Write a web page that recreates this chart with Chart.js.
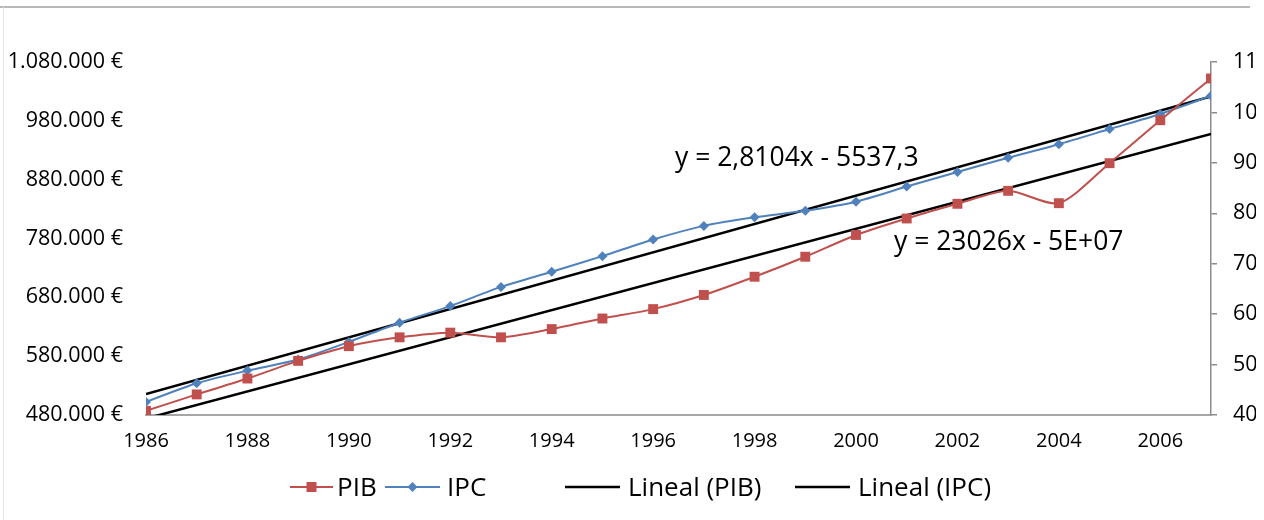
<!DOCTYPE html>
<html>
<head>
<meta charset="UTF-8" />
<title>PIB e IPC</title>
<script src="https://cdn.jsdelivr.net/npm/chart.js@4"></script>
<style>
  html, body { margin: 0; padding: 0; background: #fff; }
  #wrap { position: relative; width: 1264px; height: 520px; overflow: hidden; }
  #frameTop { position: absolute; left: 0; top: 6px; width: 1250px; height: 2px; background: #b8b8b8; }
  #frameLeft { position: absolute; left: 3px; top: 7px; width: 1px; height: 513px; background: #e4e4e4; }
  canvas { position: absolute; left: 0; top: 0; }
</style>
</head>
<body>
<div id="wrap">
  <div id="frameTop"></div>
  <div id="frameLeft"></div>
  <canvas id="chart" width="1256" height="520"></canvas>
</div>

<script>
// values
const years = [1986, 1987, 1988, 1989, 1990, 1991, 1992, 1993, 1994, 1995, 1996,
               1997, 1998, 1999, 2000, 2001, 2002, 2003, 2004, 2005, 2006, 2007];
const pib = [487000, 515000, 542000, 572000, 597000, 612000, 620000, 612000, 626000, 644000, 660000,
             684000, 715000, 749000, 786000, 814000, 839000, 861000, 840000, 908000, 981000, 1052000];
const ipc = [42.6, 46.3, 48.8, 51.0, 54.5, 58.3, 61.6, 65.4, 68.4, 71.5, 74.8,
             77.5, 79.2, 80.5, 82.3, 85.3, 88.2, 91.0, 93.7, 96.7, 99.7, 103.3];

// trend lines: ends at first and last year
const trendYears = [1986, 2007];
const pibTrend = [474000, 957500];
const ipcTrend = [44.15, 103.17];

const xTicks = [1986, 1988, 1990, 1992, 1994, 1996, 1998, 2000, 2002, 2004, 2006];
const pibTicks = [480000, 580000, 680000, 780000, 880000, 980000, 1080000];
const ipcTicks = [40, 50, 60, 70, 80, 90, 100, 110];

const legendLabels = ['PIB', 'IPC', 'Lineal (PIB)', 'Lineal (IPC)'];
const eqLabels = ['y = 2,8104x - 5537,3', 'y = 23026x - 5E+07'];

const RED = '#C0504D';
const BLUE = '#4F81BD';
const FONT = '"Open Sans", "DejaVu Sans", sans-serif';

function euro(v) {
    return String(v).replace(/\B(?=(\d{3})+(?!\d))/g, '.') + ' €';
}

function pts(xs, ys) {
    return xs.map((x, i) => ({ x: x, y: ys[i] }));
}

// legend + trend equations drawn on the canvas
const extras = {
    id: 'extras',
    afterDraw(chart) {
        const ctx = chart.ctx;
        ctx.save();
        ctx.fillStyle = '#000';
        ctx.textAlign = 'left';
        ctx.textBaseline = 'alphabetic';
        ctx.font = '26.5px ' + FONT;
        ctx.fillText(eqLabels[0], 675, 166);
        ctx.fillText(eqLabels[1], 894, 250);

        const ly = 487;
        const items = [
            { x0: 290, x1: 333, col: RED, mark: 'sq', tx: 337 },
            { x0: 385, x1: 440, col: BLUE, mark: 'di', tx: 447 },
            { x0: 565, x1: 620, col: '#000', mark: null, tx: 628 },
            { x0: 795, x1: 850, col: '#000', mark: null, tx: 858 }
        ];
        items.forEach((it, i) => {
            ctx.strokeStyle = it.col;
            ctx.lineWidth = it.mark ? 2 : 2.5;
            ctx.beginPath();
            ctx.moveTo(it.x0, ly);
            ctx.lineTo(it.x1, ly);
            ctx.stroke();
            const cx = (it.x0 + it.x1) / 2;
            ctx.fillStyle = it.col;
            if (it.mark === 'sq') {
                ctx.fillRect(cx - 5, ly - 5, 10, 10);
            } else if (it.mark === 'di') {
                ctx.beginPath();
                ctx.moveTo(cx, ly - 5);
                ctx.lineTo(cx + 5, ly);
                ctx.lineTo(cx, ly + 5);
                ctx.lineTo(cx - 5, ly);
                ctx.closePath();
                ctx.fill();
            }
            ctx.fillStyle = '#000';
            ctx.font = '26px ' + FONT;
            ctx.fillText(legendLabels[i], it.tx, 496);
        });
        ctx.restore();
    }
};

new Chart(document.getElementById('chart'), {
    type: 'line',
    data: {
        datasets: [
            {
                label: legendLabels[0],
                data: pts(years, pib),
                yAxisID: 'yL',
                borderColor: RED,
                backgroundColor: RED,
                borderWidth: 2,
                pointStyle: 'rect',
                pointRadius: 7,
                pointBorderWidth: 0,
                tension: 0.25
            },
            {
                label: legendLabels[1],
                data: pts(years, ipc),
                yAxisID: 'yR',
                borderColor: BLUE,
                backgroundColor: BLUE,
                borderWidth: 2,
                pointStyle: 'rectRot',
                pointRadius: 5,
                pointBorderWidth: 0,
                tension: 0.25
            },
            {
                label: legendLabels[2],
                data: pts(trendYears, pibTrend),
                yAxisID: 'yL',
                borderColor: '#000',
                borderWidth: 2.5,
                pointRadius: 0
            },
            {
                label: legendLabels[3],
                data: pts(trendYears, ipcTrend),
                yAxisID: 'yR',
                borderColor: '#000',
                borderWidth: 2.5,
                pointRadius: 0
            }
        ]
    },
    options: {
        responsive: false,
        animation: false,
        devicePixelRatio: 1,
        layout: { padding: { top: 62, left: 0, right: 0, bottom: 0 } },
        plugins: {
            legend: { display: false },
            tooltip: { enabled: false }
        },
        scales: {
            x: {
                type: 'linear',
                position: 'bottom',
                min: 1986,
                max: 2007,
                afterBuildTicks: s => { s.ticks = xTicks.map(v => ({ value: v })); },
                afterFit: s => { s.height = 105; },
                ticks: {
                    callback: v => String(v),
                    color: '#000',
                    font: { family: FONT, size: 20 },
                    padding: 14,
                    maxRotation: 0,
                    autoSkip: false
                },
                grid: { display: true, drawOnChartArea: false, drawTicks: false },
                border: { display: true, color: '#a6a6a6', width: 2 }
            },
            yL: {
                position: 'left',
                min: 480000,
                max: 1080000,
                afterBuildTicks: s => { s.ticks = pibTicks.map(v => ({ value: v })); },
                afterFit: s => { s.width = 146; },
                ticks: {
                    callback: v => euro(v),
                    color: '#000',
                    font: { family: FONT, size: 21.5 },
                    padding: 15
                },
                grid: { display: false },
                border: { display: false }
            },
            yR: {
                position: 'right',
                min: 40,
                max: 110,
                afterBuildTicks: s => { s.ticks = ipcTicks.map(v => ({ value: v })); },
                afterFit: s => { s.width = 45; },
                ticks: {
                    color: '#000',
                    font: { family: FONT, size: 21.5 },
                    padding: 16
                },
                grid: {
                    display: true,
                    drawOnChartArea: false,
                    drawTicks: true,
                    tickLength: 6,
                    color: '#8c8c8c',
                    lineWidth: 1.5
                },
                border: { display: true, color: '#8c8c8c', width: 1.5 }
            }
        }
    },
    plugins: [extras]
});
</script>
</body>
</html>
